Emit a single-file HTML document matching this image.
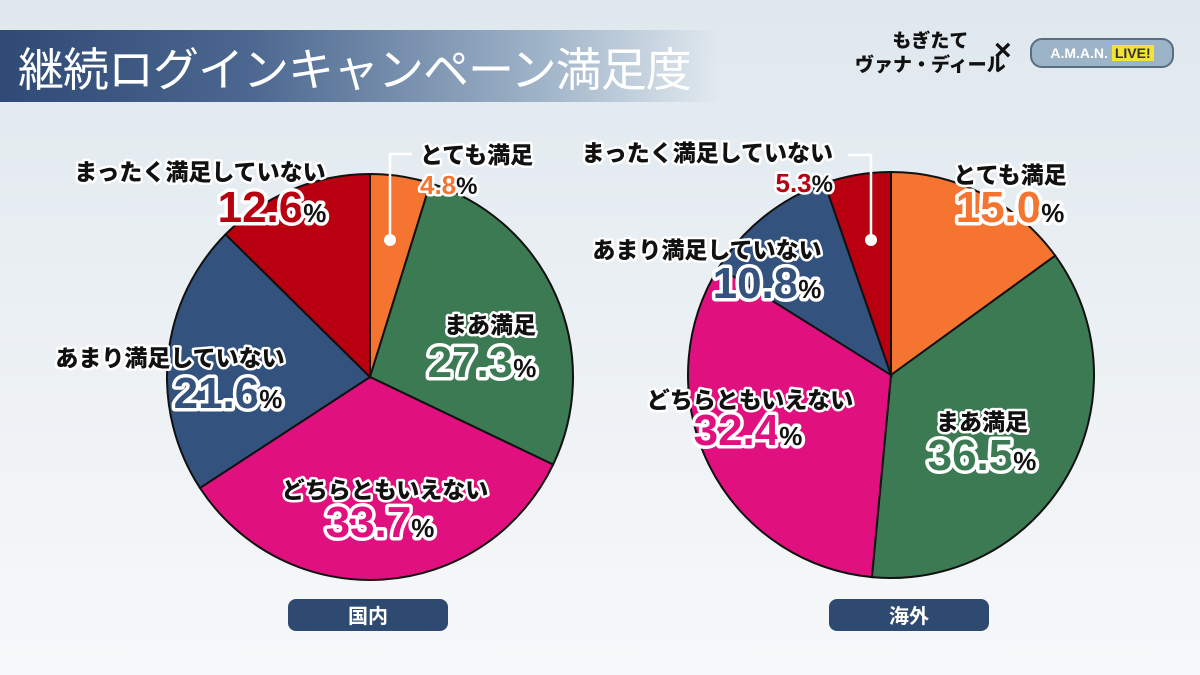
<!DOCTYPE html>
<html><head><meta charset="utf-8">
<style>
html,body{margin:0;padding:0}
body{width:1200px;height:675px;overflow:hidden;background:linear-gradient(180deg,#dfe8ee 0%,#eef2f5 60%,#f7f8f9 100%);font-family:"Liberation Sans","Noto Sans CJK JP",sans-serif;position:relative}
#banner{position:absolute;left:0;top:30px;width:720px;height:72px;background:linear-gradient(90deg,#2e4a75 0%,#4c6890 35%,#9fb3c8 75%,rgba(220,230,238,0) 100%)}
#title{position:absolute;left:18px;top:34px;color:#fff;font-size:46px;font-family:"Noto Sans CJK JP",sans-serif;font-weight:400;letter-spacing:-1px;white-space:nowrap}
.pill{position:absolute;width:160px;height:32px;border-radius:8px;background:#2f4a70;color:#fff;font-weight:bold;font-size:20px;text-align:center;line-height:32px;font-family:"Noto Sans CJK JP",sans-serif}
svg text{font-family:"Noto Sans CJK JP",sans-serif;font-weight:900;paint-order:stroke;stroke:#fff;stroke-linejoin:round}
svg tspan.num{font-family:"Liberation Sans",sans-serif;font-weight:bold}
</style></head><body>
<div id="banner"></div>
<div id="title">継続ログインキャンペーン満足度</div>
<div style="position:absolute;left:855px;top:28px;font-family:'Noto Sans CJK JP',sans-serif;font-weight:900;font-size:19px;line-height:24px;color:#111;text-align:center">もぎたて<br>ヴァナ・ディール</div>
<div style="position:absolute;left:994px;top:34px;font-size:30px;font-weight:bold;color:#111">×</div>
<div style="position:absolute;left:1030px;top:38px;width:140px;height:26px;border-radius:12px;background:#9bb4c8;border:2px solid #5a6c80;color:#fff;font-size:14px;font-weight:bold;text-align:center;line-height:26px">A.M.A.N. <span style="background:#f3e23a;color:#333;padding:0 3px">LIVE!</span></div>
<svg id="chart" width="1200" height="675" style="position:absolute;left:0;top:0"></svg>
<div class="pill" style="left:288px;top:599px">国内</div>
<div class="pill" style="left:829px;top:599px">海外</div>
<script>
const categories=["とても満足","まあ満足","どちらともいえない","あまり満足していない","まったく満足していない"];
const domesticValues=[4.8,27.3,33.7,21.6,12.6];
const overseasValues=[15.0,36.5,32.4,10.8,5.3];
const colors=["#f47430","#3b7a52","#e0107e","#34527e","#b80010"];
const NS="http://www.w3.org/2000/svg";
const svg=document.getElementById("chart");
function pt(cx,cy,r,a){return [cx+r*Math.sin(a),cy-r*Math.cos(a)];}
function drawPie(vals,cx,cy,r,name){
  const g=document.createElementNS(NS,"g");
  
  
  svg.appendChild(g);
  const tot=vals.reduce((a,b)=>a+b,0);let a0=0;
  vals.forEach((v,i)=>{
    const a1=a0+v/tot*2*Math.PI;
    const p0=pt(cx,cy,r,a0),p1=pt(cx,cy,r,a1);
    const p=document.createElementNS(NS,"path");
    p.setAttribute("d",`M${cx},${cy}L${p0[0]},${p0[1]}A${r},${r} 0 ${a1-a0>Math.PI?1:0} 1 ${p1[0]},${p1[1]}Z`);
    p.setAttribute("fill",colors[i]);p.setAttribute("stroke","#111");p.setAttribute("stroke-width","2");
    
    
    g.appendChild(p);a0=a1;
  });
}
drawPie(domesticValues,370,377,203,"domestic-pie");
drawPie(overseasValues,891,375,203,"overseas-pie");
function leader(pts,dot,name){
  const l=document.createElementNS(NS,"polyline");
  l.setAttribute("points",pts);l.setAttribute("fill","none");l.setAttribute("stroke","#fff");l.setAttribute("stroke-width","2.5");
  
  
  svg.appendChild(l);
  const c=document.createElementNS(NS,"circle");
  c.setAttribute("cx",dot[0]);c.setAttribute("cy",dot[1]);c.setAttribute("r","6");c.setAttribute("fill","#fff");
  
  
  svg.appendChild(c);
}
leader("390,240 390,154 412,154",[390,240],"domestic-leader");
leader("871,240 871,155 848,155",[871,240],"overseas-leader");
function label(i,vals,cx,cy,canchor,vx,vy,vanchor,big,name){
  const t=document.createElementNS(NS,"text");
  t.setAttribute("x",cx);t.setAttribute("y",cy+8);t.setAttribute("text-anchor",canchor);
  t.setAttribute("font-size","23");t.setAttribute("fill","#111");t.setAttribute("stroke-width","5");
  t.textContent=categories[i];
  
  
  svg.appendChild(t);
  const v=document.createElementNS(NS,"text");
  v.setAttribute("x",vx);v.setAttribute("y",vy+(big?15:9));v.setAttribute("text-anchor",vanchor);
  v.setAttribute("stroke-width",big?"7":"5");
  
  
  const s1=document.createElementNS(NS,"tspan");s1.setAttribute("class","num");s1.setAttribute("font-size",big?"44":"26");s1.setAttribute("fill",colors[i]);
  s1.textContent=vals[i].toFixed(1);
  const s2=document.createElementNS(NS,"tspan");s2.setAttribute("class","num");s2.setAttribute("font-size",big?"26":"24");s2.setAttribute("fill","#111");s2.textContent="%";
  v.appendChild(s1);v.appendChild(s2);svg.appendChild(v);
}
label(0,domesticValues,420,155,"start",420,185,"start",false,"domestic-very-satisfied");
label(1,domesticValues,490,325,"middle",482,362,"middle",true,"domestic-satisfied");
label(2,domesticValues,385,490,"middle",380,522,"middle",true,"domestic-neutral");
label(3,domesticValues,170,358,"middle",228,393,"middle",true,"domestic-unsatisfied");
label(4,domesticValues,200,172,"middle",272,207,"middle",true,"domestic-very-unsatisfied");
label(0,overseasValues,1010,175,"middle",1010,207,"middle",true,"overseas-very-satisfied");
label(1,overseasValues,982,422,"middle",982,455,"middle",true,"overseas-satisfied");
label(2,overseasValues,750,400,"middle",748,430,"middle",true,"overseas-neutral");
label(3,overseasValues,707,250,"middle",767,283,"middle",true,"overseas-unsatisfied");
label(4,overseasValues,833,153,"end",833,183,"end",false,"overseas-very-unsatisfied");
</script>
</body></html>
